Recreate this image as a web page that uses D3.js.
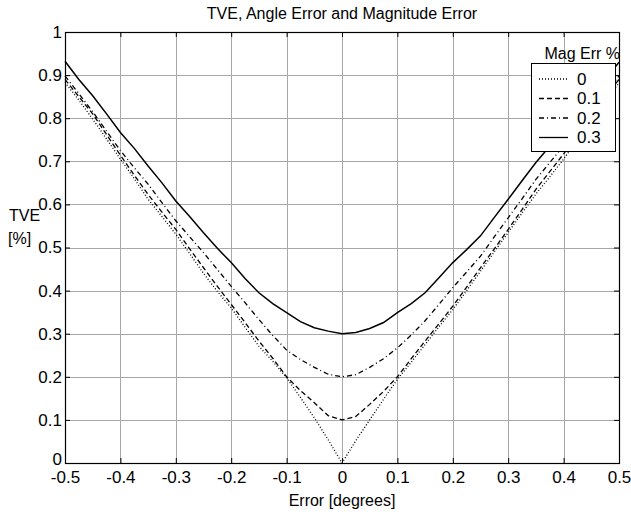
<!DOCTYPE html>
<html>
<head>
<meta charset="utf-8">
<script src="https://cdn.jsdelivr.net/npm/d3@7"></script>
<style>
  body { margin: 0; background: #fff; }
  text { font-family: "Liberation Sans", Arial, sans-serif; fill: #000; }
</style>
</head>
<body>
<svg width="631" height="514"></svg>
<script>
// angle error in degrees
var errors = [-0.5, -0.475, -0.45, -0.425, -0.4, -0.375, -0.35, -0.325, -0.3, -0.275,
              -0.25, -0.225, -0.2, -0.175, -0.15, -0.125, -0.1, -0.075, -0.05, -0.025,
              0, 0.025, 0.05, 0.075, 0.1, 0.125, 0.15, 0.175, 0.2, 0.225,
              0.25, 0.275, 0.3, 0.325, 0.35, 0.375, 0.4, 0.425, 0.45, 0.475, 0.5];

// TVE [%] for each magnitude error
var tve0 = [0.883, 0.842, 0.798, 0.752, 0.705, 0.66, 0.612, 0.572, 0.531, 0.486,
            0.44, 0.398, 0.36, 0.315, 0.271, 0.236, 0.198, 0.152, 0.105, 0.054,
            0, 0.052, 0.1, 0.148, 0.194, 0.234, 0.275, 0.316, 0.356, 0.4,
            0.445, 0.49, 0.535, 0.58, 0.624, 0.664, 0.705, 0.75, 0.795, 0.84, 0.882];
var tve01 = [0.89, 0.85, 0.81, 0.762, 0.714, 0.668, 0.623, 0.582, 0.542, 0.497,
             0.453, 0.41, 0.368, 0.326, 0.283, 0.243, 0.2, 0.168, 0.14, 0.11,
             0.1, 0.108, 0.136, 0.166, 0.2, 0.242, 0.283, 0.323, 0.364, 0.408,
             0.453, 0.497, 0.542, 0.588, 0.635, 0.676, 0.717, 0.76, 0.805, 0.848, 0.89];
var tve02 = [0.898, 0.857, 0.815, 0.77, 0.725, 0.685, 0.647, 0.604, 0.562, 0.525,
             0.488, 0.449, 0.41, 0.372, 0.333, 0.296, 0.262, 0.24, 0.222, 0.206,
             0.2, 0.205, 0.222, 0.242, 0.267, 0.297, 0.33, 0.368, 0.407, 0.443,
             0.48, 0.525, 0.569, 0.613, 0.658, 0.697, 0.736, 0.776, 0.816, 0.857, 0.898];
var tve03 = [0.932, 0.89, 0.852, 0.81, 0.767, 0.73, 0.689, 0.65, 0.608, 0.572,
             0.534, 0.498, 0.465, 0.428, 0.395, 0.37, 0.349, 0.328, 0.314, 0.306,
             0.3, 0.303, 0.312, 0.326, 0.349, 0.37, 0.395, 0.43, 0.465, 0.495,
             0.527, 0.57, 0.612, 0.655, 0.697, 0.735, 0.77, 0.81, 0.85, 0.89, 0.93];

var seriesNames = ["0", "0.1", "0.2", "0.3"];
var xTicks = [-0.5, -0.4, -0.3, -0.2, -0.1, 0, 0.1, 0.2, 0.3, 0.4, 0.5];
var yTicks = [0, 0.1, 0.2, 0.3, 0.4, 0.5, 0.6, 0.7, 0.8, 0.9, 1];

var dashes = ["1,2", "5,3", "5,3,1,3", null];

var svg = d3.select("svg");
var margin = {top: 32, right: 12, bottom: 51, left: 65};
var width = +svg.attr("width") - margin.left - margin.right;
var height = +svg.attr("height") - margin.top - margin.bottom;

var g = svg.append("g")
           .attr("transform", "translate(" + margin.left + "," + margin.top + ")");

var x = d3.scaleLinear().domain([-0.5, 0.5]).range([0, width]);
var y = d3.scaleLinear().domain([0, 1]).range([height, 0]);

// plain hyphen for negatives, like the original
var fmt = function(d){ return String(d); };

// grid
g.selectAll(".vgrid")
 .data(xTicks.slice(1, -1))
 .enter().append("line")
 .attr("x1", function(d){ return Math.round(x(d)) + 0.5; })
 .attr("x2", function(d){ return Math.round(x(d)) + 0.5; })
 .attr("y1", 0).attr("y2", height)
 .style("stroke", "#a8a8a8");

g.selectAll(".hgrid")
 .data(yTicks.slice(1, -1))
 .enter().append("line")
 .attr("y1", function(d){ return Math.round(y(d)) + 0.5; })
 .attr("y2", function(d){ return Math.round(y(d)) + 0.5; })
 .attr("x1", 0).attr("x2", width)
 .style("stroke", "#a8a8a8");

// axes, ticks pointing in
var xAxis = g.append("g")
  .attr("transform", "translate(0," + height + ")")
  .call(d3.axisBottom(x).tickValues(xTicks).tickSizeInner(-5).tickSizeOuter(0).tickPadding(8)
        .tickFormat(fmt));
var xAxisTop = g.append("g")
  .call(d3.axisTop(x).tickValues(xTicks).tickSizeInner(-5).tickSizeOuter(0).tickFormat(""));
var yAxis = g.append("g")
  .call(d3.axisLeft(y).tickValues(yTicks).tickSizeInner(-5).tickSizeOuter(0).tickPadding(3)
        .tickFormat(fmt));
var yAxisRight = g.append("g")
  .attr("transform", "translate(" + width + ",0)")
  .call(d3.axisRight(y).tickValues(yTicks).tickSizeInner(-5).tickSizeOuter(0).tickFormat(""));

svg.selectAll(".domain").remove();
svg.selectAll(".tick line").style("stroke", "#000");
svg.selectAll(".tick text")
   .style("font-family", "Liberation Sans, Arial, sans-serif")
   .style("font-size", "17px");
xAxis.selectAll(".tick text").attr("dy", "0.71em");

// "0" of y axis sits a bit above the x labels
yAxis.selectAll(".tick text").attr("dy", function(d){ return d === 0 ? "0.1em" : "0.32em"; });

// box
g.append("rect")
 .attr("x", 0.5).attr("y", 0.5)
 .attr("width", width).attr("height", height)
 .style("fill", "none")
 .style("stroke", "#000")
 .style("stroke-width", 1.2);

// curves
var series = [tve0, tve01, tve02, tve03];
var line = d3.line()
  .x(function(d, i){ return x(errors[i]); })
  .y(function(d){ return y(d); });

g.selectAll(".curve")
 .data(series)
 .enter().append("path")
 .attr("class", "curve")
 .attr("d", line)
 .style("fill", "none")
 .style("stroke", "#000")
 .style("stroke-width", function(d, i){ return i === 3 ? 1.5 : 1.3; })
 .style("stroke-dasharray", function(d, i){ return dashes[i]; });

// legend
var lg = g.append("g").attr("transform", "translate(" + (x(0.5) - 88) + ",31)");
lg.append("rect")
  .attr("x", 0.5).attr("y", 0.5)
  .attr("width", 84).attr("height", 88)
  .style("fill", "#fff")
  .style("stroke", "#000");

lg.selectAll(".lgline")
  .data(seriesNames)
  .enter().append("line")
  .attr("x1", 8).attr("x2", 37)
  .attr("y1", function(d, i){ return 16 + 19.5 * i; })
  .attr("y2", function(d, i){ return 16 + 19.5 * i; })
  .style("stroke", "#000")
  .style("stroke-width", 1.3)
  .style("stroke-dasharray", function(d, i){ return dashes[i]; });

lg.selectAll(".lgtext")
  .data(seriesNames)
  .enter().append("text")
  .attr("x", 46)
  .attr("y", function(d, i){ return 16 + 19.5 * i; })
  .attr("dy", "0.35em")
  .style("font-size", "17px")
  .text(function(d){ return d; });

g.append("text")
 .attr("x", width + 1)
 .attr("y", 27)
 .attr("text-anchor", "end")
 .style("font-size", "16px")
 .text("Mag Err %");

// titles
svg.append("text")
   .attr("x", margin.left + width / 2)
   .attr("y", 19)
   .attr("text-anchor", "middle")
   .style("font-size", "16px")
   .text("TVE, Angle Error and Magnitude Error");

svg.append("text")
   .attr("x", margin.left + width / 2)
   .attr("y", 506)
   .attr("text-anchor", "middle")
   .style("font-size", "16px")
   .text("Error [degrees]");

svg.append("text")
   .attr("x", 9)
   .attr("y", 221)
   .style("font-size", "16px")
   .text("TVE");
svg.append("text")
   .attr("x", 8)
   .attr("y", 244)
   .style("font-size", "16px")
   .text("[%]");
</script>
</body>
</html>
